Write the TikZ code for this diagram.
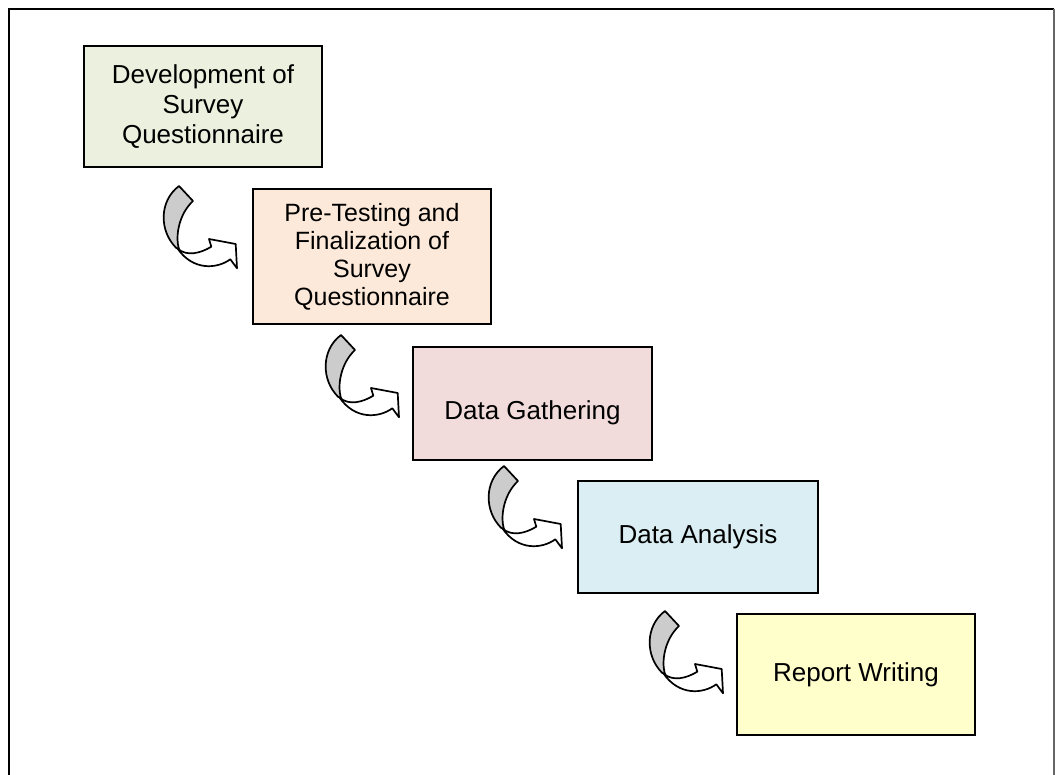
\documentclass[tikz,border=0pt]{standalone}
\usepackage{fontspec}
\setmainfont{Liberation Sans}
\definecolor{fgreen}{HTML}{EBF1DE}
\definecolor{forange}{HTML}{FDE9D9}
\definecolor{fred}{HTML}{F2DCDB}
\definecolor{fblue}{HTML}{DAEEF3}
\definecolor{fyellow}{HTML}{FFFFCC}
\definecolor{arrowgray}{HTML}{CCCCCC}
\tikzset{
  stepbox/.style={draw=black, line width=1.8pt, align=center, inner sep=0pt,
    font=\fontsize{26}{30}\selectfont},
  curvedarrow/.pic={
    \filldraw[fill=arrowgray, line width=1.7pt, line join=round]
      (0,0) -- (14,15) .. controls (0,28) and (-4,50) .. (0,63)
      -- (-2.7,62) .. controls (-20,45) and (-20,15) .. (0,0) -- cycle;
    \filldraw[fill=white, line width=1.7pt, line join=round]
      (-1.5,62.5) .. controls (8,71) and (22,67) .. (32.3,60.7)
      -- (30,53) -- (56.7,58) -- (58,82.3) -- (51.3,73.3)
      .. controls (38,83) and (14,85) .. (-1.5,62.5) -- cycle;
  }
}
\begin{document}
\begin{tikzpicture}[x=1pt,y=-1pt]
\useasboundingbox (0,0) rectangle (1055,775);
\clip (0,0) rectangle (1055,775);
% outer frame
\draw[line width=2pt] (9,790) -- (9,9) -- (1054,9);
\draw[line width=2pt, draw=black!60] (1054,9) -- (1054,790);
% boxes
\node[stepbox, fill=fgreen, minimum width=238pt, minimum height=121pt] (b1) at (203,106.5)
  {Development of\\Survey\\Questionnaire};
\node[stepbox, fill=forange, minimum width=238pt, minimum height=135pt,
  font=\fontsize{25}{28}\selectfont] (b2) at (372,256.5)
  {Pre-Testing and\\Finalization of\\Survey\\Questionnaire};
\node[stepbox, fill=fred, minimum width=239pt, minimum height=113pt] (b3) at (532.5,403.5)
  {\raisebox{-16pt}[0pt][0pt]{Data Gathering}};
\node[stepbox, fill=fblue, minimum width=240pt, minimum height=112pt] (b4) at (698,537)
  {Data Analysis};
\node[stepbox, fill=fyellow, minimum width=238pt, minimum height=121pt] (b5) at (856,674.5)
  {Report Writing};
% curved arrows
\coordinate (a1) at (179,186);
\coordinate (a2) at (341,335);
\coordinate (a3) at (504,466);
\coordinate (a4) at (665,611);
\pic at (a1) {curvedarrow};
\pic at (a2) {curvedarrow};
\pic at (a3) {curvedarrow};
\pic at (a4) {curvedarrow};
\end{tikzpicture}
\end{document}
